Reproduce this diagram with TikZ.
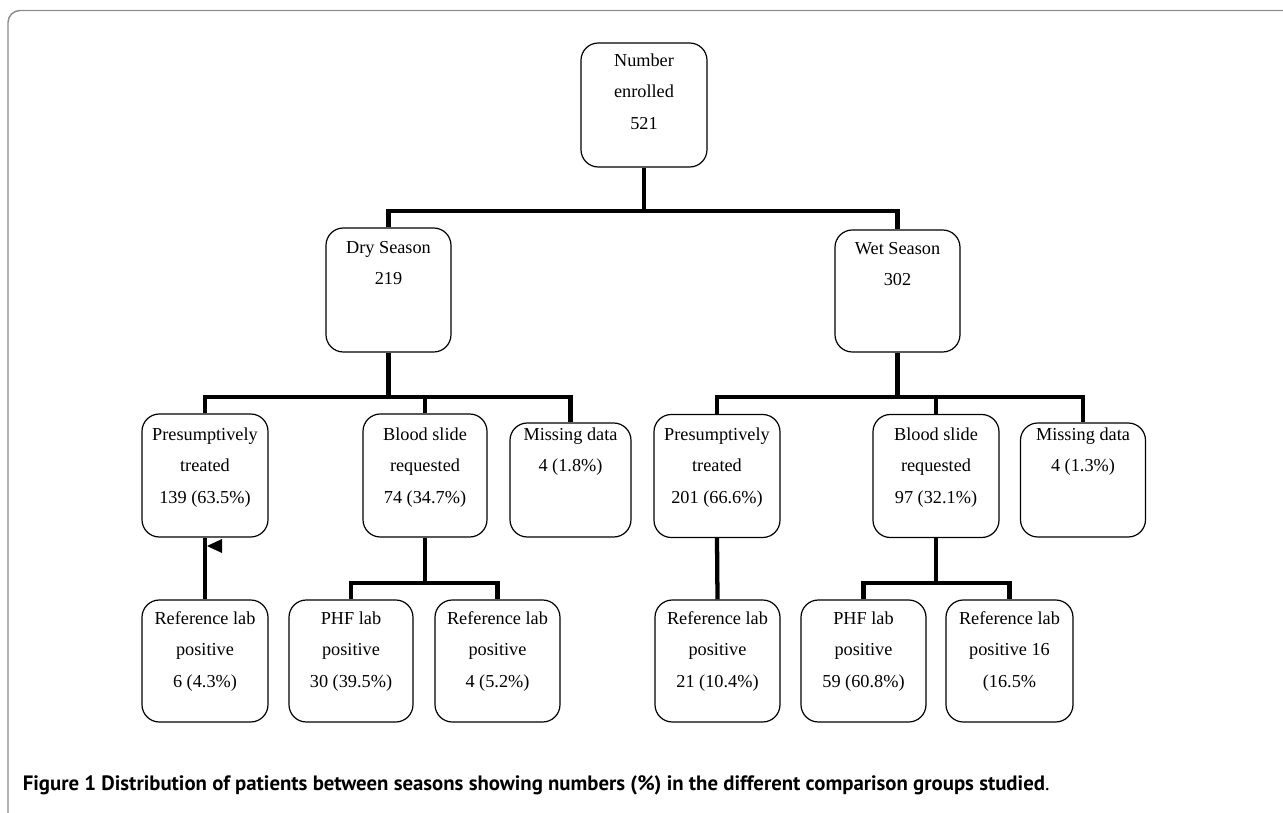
\documentclass[tikz,border=0pt]{standalone}
\usepackage{fontspec}
\setmainfont{Liberation Serif}
\newfontfamily\capfont{PT Sans}
\usepackage{graphicx}
% #1 name, #2 x, #3 y, #4 width, #5 height, #6 baseline offset of first line, #7 text
\newcommand\bnode[7]{\node[bx, minimum width=#4*0.75pt, minimum height=#5*0.75pt,
  label={[lbl,name=#1-t,yshift=-(#6*0.75-9.5)*1pt]north:{\rule{0pt}{9.5pt}#7}}] (#1) at (#2,#3) {};}
\begin{document}
\begin{tikzpicture}[x=0.75pt,y=-0.75pt,
  bx/.style={draw, line width=0.9pt, rounded corners=13pt, inner sep=0pt},
  lbl/.style={anchor=north, align=center, inner sep=0pt,
    font=\fontsize{13.7}{23.6}\selectfont},
  conn/.style={line width=3.2pt},
  frame/.style={draw=black!45, line width=1.1pt, rounded corners=9pt}]
\useasboundingbox (0,0) rectangle (1283,813);
\draw[frame] (8,813) -- (8,10.5) -- (1283,10.5);

\bnode{n0}{644}{105}{126}{124}{23.5}{Number\\enrolled\\521}
\bnode{dry}{388.5}{290}{125}{124}{25.5}{Dry Season\\219}
\bnode{wet}{897.5}{291}{125}{122}{24.5}{Wet Season\\302}

\bnode{pt1}{205}{475.5}{126}{123}{26.5}{Presumptively\\treated\\139 (63.5\%)}
\bnode{bs1}{425}{475.5}{124}{123}{26.5}{Blood slide\\requested\\74 (34.7\%)}
\bnode{ms1}{570.5}{480}{121}{114}{17.5}{Missing data\\4 (1.8\%)}
\bnode{pt2}{717}{476}{126}{123}{26}{Presumptively\\treated\\201 (66.6\%)}
\bnode{bs2}{936}{476}{126}{123}{26}{Blood slide\\requested\\97 (32.1\%)}
\bnode{ms2}{1083}{480}{125}{114}{17.5}{Missing data\\4 (1.3\%)}

\bnode{rl1}{205}{661}{126}{122}{24.5}{Reference lab\\positive\\6 (4.3\%)}
\bnode{phf1}{351}{661}{124}{122}{24.5}{PHF lab\\positive\\30 (39.5\%)}
\bnode{rl2}{497.5}{661}{125}{122}{24.5}{Reference lab\\positive\\4 (5.2\%)}
\bnode{rl3}{717.5}{661}{125}{122}{24.5}{Reference lab\\positive\\21 (10.4\%)}
\bnode{phf2}{863.5}{661}{125}{122}{24.5}{PHF lab\\positive\\59 (60.8\%)}
\bnode{rl4}{1009.5}{661}{127}{122}{24.5}{Reference lab\\positive 16\\(16.5\%}

\coordinate (j0) at (644,211);
\coordinate (j1) at (388.5,397);
\coordinate (j2) at (897.5,397);
\coordinate (j3) at (425,583);
\coordinate (j4) at (936,583);

\draw[conn] (n0.south) -- (j0);
\draw[conn] (dry.north) |- (j0) -| (wet.north);

\draw[conn] (dry.south) -- (j1);
\draw[conn] (pt1.north) |- (ms1.north |- j1) -- (ms1.north);
\draw[conn] (bs1.north) -- (bs1.north |- j1);

\draw[conn] (wet.south) -- (j2);
\draw[conn] (pt2.north) |- (ms2.north |- j2) -- (ms2.north);
\draw[conn] (bs2.north) -- (bs2.north |- j2);

\draw[conn] (bs1.south) -- (j3);
\draw[conn] (phf1.north) |- (rl2.north |- j3) -- (rl2.north);
\draw[conn] (bs2.south) -- (j4);
\draw[conn] (phf2.north) |- (rl4.north |- j4) -- (rl4.north);

\draw[conn] (rl1.north) -- (pt1.south);
\draw[conn] (rl3.north) -- (pt2.south);
\fill (207,546) -- (222,539) -- (222,553) -- cycle;

\node[anchor=base west, inner sep=0pt] (cap) at (22.5,790)
  {\resizebox{770pt}{!}{\capfont\bfseries Figure 1 Distribution of patients between seasons showing numbers (\%) in the different comparison groups studied\mdseries.}};
\end{tikzpicture}
\end{document}
